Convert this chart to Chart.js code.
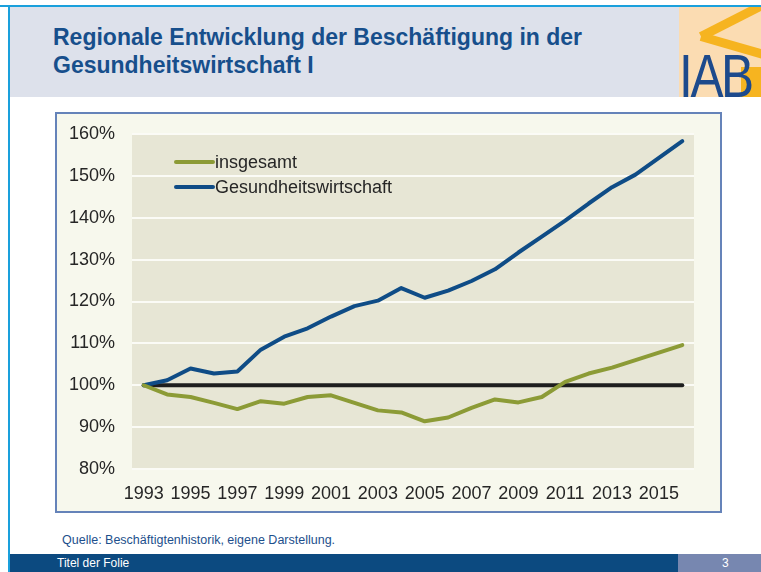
<!DOCTYPE html>
<html lang="de">
<head>
<meta charset="utf-8">
<title>Regionale Entwicklung der Beschäftigung in der Gesundheitswirtschaft I</title>
<script src="https://cdn.jsdelivr.net/npm/chart.js@4.4.1/dist/chart.umd.min.js"></script>
<style>
  html, body { margin: 0; padding: 0; }
  body {
    width: 761px; height: 572px; overflow: hidden; position: relative;
    background: #fff; font-family: "Liberation Sans", Arial, sans-serif;
  }
  .topline { position: absolute; left: 0; top: 5px; width: 761px; height: 2px; background: #1aa0dc; }
  .leftline { position: absolute; left: 8px; top: 5px; width: 2px; height: 567px; background: #1aa0dc; }
  .header { position: absolute; left: 10px; top: 7px; width: 669px; height: 90px; background: #dde1eb; }
  .title {
    position: absolute; left: 53px; top: 23px; margin: 0;
    font-size: 23px; line-height: 28px; font-weight: bold; color: #174f8c;
  }
  .logo {
    position: absolute; left: 679px; top: 7px; width: 82px; height: 90px;
    background: #fbdcb2; overflow: hidden;
  }
  .logo .bar { position: absolute; background: #f6b420; transform-origin: left center; }
  .logo .txt {
    position: absolute; left: 0px; top: 38px; font-size: 62px; line-height: 62px;
    color: #1d4a8c; letter-spacing: -3px; transform: scaleX(0.8); transform-origin: left top;
  }
  .frame {
    position: absolute; left: 55px; top: 112px; width: 667px; height: 401px;
    box-sizing: border-box; border: 2px solid #6583b9; background: #f7f8ed;
  }
  #chart { position: absolute; left: 56px; top: 113px; }
  .quelle { position: absolute; left: 62px; top: 533px; font-size: 12.5px; color: #1d4f8c; }
  .footer { position: absolute; left: 10px; top: 554px; width: 668px; height: 18px; background: #0c4a80; }
  .footer span { position: absolute; left: 47px; top: 2px; font-size: 12px; color: #fff; }
  .page { position: absolute; left: 678px; top: 554px; width: 83px; height: 18px; background: #7787b0; }
  .page span { position: absolute; left: 44px; top: 2px; font-size: 12px; color: #fff; }
</style>
</head>
<body>
<div class="topline"></div>
<div class="header"></div>
<div class="leftline"></div>
<h1 class="title">Regionale Entwicklung der Beschäftigung in der<br>Gesundheitswirtschaft I</h1>
<div class="logo">
  <div class="bar" style="left:22px;top:25px;width:70px;height:9px;transform:rotate(-27deg);"></div>
  <div class="bar" style="left:22px;top:25px;width:70px;height:9px;transform:rotate(16deg);"></div>
  <div class="bar" style="left:62px;top:60px;width:30px;height:40px;"></div>
  <div class="txt">IAB</div>
</div>
<div class="frame"></div>
<canvas id="chart" width="665" height="399"></canvas>
<div class="quelle">Quelle: Beschäftigtenhistorik, eigene Darstellung.</div>
<div class="footer"><span>Titel der Folie</span></div>
<div class="page"><span>3</span></div>

<script>
// Jahre (Kategorien)
const jahre = ['1993', '1994', '1995', '1996', '1997', '1998', '1999', '2000', '2001', '2002', '2003', '2004',
  '2005', '2006', '2007', '2008', '2009', '2010', '2011', '2012', '2013', '2014', '2015', '2016'];

// Index 1993 = 100%
const insgesamt = [100, 97.8, 97.2, 95.8, 94.3, 96.2, 95.6, 97.2, 97.6, 95.8, 94.0, 93.5,
  91.4, 92.3, 94.6, 96.6, 95.9, 97.2, 100.8, 102.8, 104.2, 106.0, 107.8, 109.6];
const gesundheitswirtschaft = [100, 101.2, 104.0, 102.8, 103.3, 108.5, 111.6, 113.6, 116.4, 118.9, 120.2, 123.2,
  120.9, 122.6, 124.9, 127.7, 131.7, 135.5, 139.3, 143.4, 147.3, 150.3, 154.3, 158.3];
const basis = [100, 100, 100, 100, 100, 100, 100, 100, 100, 100, 100, 100,
  100, 100, 100, 100, 100, 100, 100, 100, 100, 100, 100, 100];

const yTicks = [80, 90, 100, 110, 120, 130, 140, 150, 160];

const GRUEN = '#8c9b36';
const BLAU = '#0f4c86';
const SCHRIFT = '"Liberation Sans", Arial, sans-serif';

// Hintergrund der Zeichenfläche
const plotBg = {
  id: 'plotBg',
  beforeDraw(chart) {
    const { ctx, chartArea: a } = chart;
    ctx.save();
    ctx.fillStyle = '#e7e6d5';
    ctx.fillRect(a.left, a.top, a.right - a.left, a.bottom - a.top);
    ctx.restore();
  }
};

// Legende oben links in der Zeichenfläche
const legende = {
  id: 'legende',
  afterDatasetsDraw(chart) {
    const { ctx, chartArea: a } = chart;
    const eintraege = chart.data.datasets.filter(d => d.inLegend);
    ctx.save();
    ctx.font = '18px ' + SCHRIFT;
    ctx.textBaseline = 'middle';
    eintraege.forEach((d, i) => {
      const y = a.top + 28 + i * 25;
      ctx.strokeStyle = d.borderColor;
      ctx.lineWidth = 4;
      ctx.lineCap = 'round';
      ctx.beginPath();
      ctx.moveTo(a.left + 44, y);
      ctx.lineTo(a.left + 81, y);
      ctx.stroke();
      ctx.fillStyle = '#262626';
      ctx.fillText(d.label, a.left + 83, y + 1);
    });
    ctx.restore();
  }
};

new Chart(document.getElementById('chart'), {
  type: 'line',
  data: {
    labels: jahre,
    datasets: [
      { label: 'insgesamt', data: insgesamt, borderColor: GRUEN, inLegend: true },
      { label: 'Gesundheitswirtschaft', data: gesundheitswirtschaft, borderColor: BLAU, inLegend: true },
      { label: 'Basis', data: basis, borderColor: '#1e1e1e', inLegend: false }
    ]
  },
  options: {
    responsive: false,
    animation: false,
    devicePixelRatio: 1,
    layout: { padding: { left: 0, top: 21, right: 27, bottom: 0 } },
    elements: {
      line: { borderWidth: 4, tension: 0, borderCapStyle: 'round', borderJoinStyle: 'round', fill: false },
      point: { radius: 0, hoverRadius: 0 }
    },
    plugins: { legend: { display: false }, tooltip: { enabled: false } },
    scales: {
      x: {
        offset: true,
        grid: { display: false },
        border: { display: false },
        afterFit(scale) { scale.height = 43; },
        ticks: {
          autoSkip: false, maxRotation: 0, padding: 6, color: '#262626',
          font: { family: SCHRIFT, size: 18 },
          callback(v, i) { return i % 2 === 0 ? jahre[i] : ''; }
        }
      },
      y: {
        min: 80, max: 160,
        afterFit(scale) {
          scale.width = 76;
          scale.paddingTop = 0;
          scale.paddingBottom = 0;
        },
        afterBuildTicks(scale) { scale.ticks = yTicks.map(v => ({ value: v })); },
        grid: { color: '#fbfbf6', lineWidth: 2, drawTicks: false },
        border: { display: false },
        ticks: {
          padding: 17, color: '#262626',
          font: { family: SCHRIFT, size: 18 },
          callback: v => v + '%'
        }
      }
    }
  },
  plugins: [plotBg, legende]
});
</script>
</body>
</html>
